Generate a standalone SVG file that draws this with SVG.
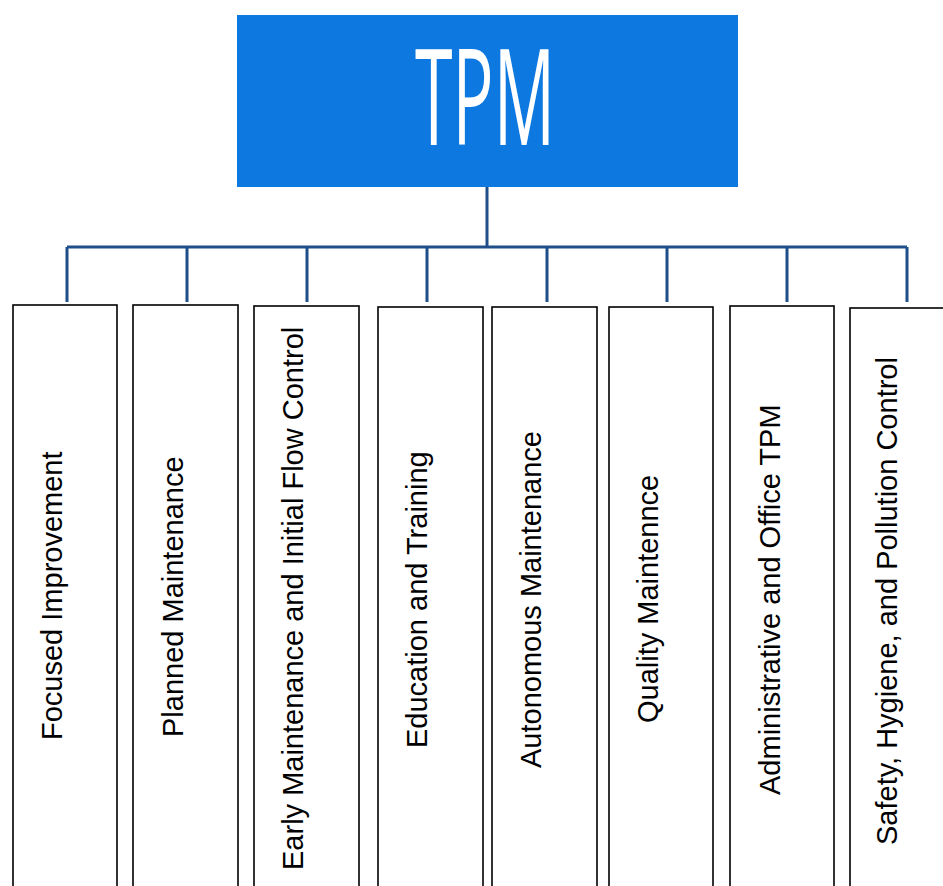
<svg xmlns="http://www.w3.org/2000/svg" width="943" height="886" viewBox="0 0 943 886">
<style>
.box{fill:#fff;stroke:#000;stroke-width:1.6}
.lbl{font-family:"Liberation Sans",Arial,sans-serif;font-size:29px;fill:#000}
.conn{stroke:#1f4f8a;stroke-width:3;fill:none}
</style>
<rect width="943" height="886" fill="#fff"/>
<g id="tpm">
<rect x="237" y="15" width="501" height="172" fill="#0c78e0"/>
<text x="485" y="145" text-anchor="middle" font-family="'Open Sans','DejaVu Sans',sans-serif" font-weight="400" font-size="133" fill="#fff" textLength="140" lengthAdjust="spacingAndGlyphs">TPM</text>
</g>
<g id="connectors">
<path class="conn" d="M487 187V247M67 247H907M67 247V302M187 247V302M307 247V302M427 247V302M547 247V302M667 247V302M787 247V302M907 247V302"/>
</g>
<g id="n1"><rect class="box" x="13" y="305" width="104" height="600"/><text class="lbl" transform="translate(62,740) rotate(-90)">Focused Improvement</text></g>
<g id="n2"><rect class="box" x="133" y="305" width="105" height="600"/><text class="lbl" transform="translate(183,737) rotate(-90)">Planned Maintenance</text></g>
<g id="n3"><rect class="box" x="254" y="306" width="105" height="600"/><text class="lbl" transform="translate(303,870) rotate(-90)">Early Maintenance and Initial Flow Control</text></g>
<g id="n4"><rect class="box" x="378" y="307" width="105" height="600"/><text class="lbl" transform="translate(427,748) rotate(-90)">Education and Training</text></g>
<g id="n5"><rect class="box" x="492" y="307" width="105" height="600"/><text class="lbl" transform="translate(541,768) rotate(-90)">Autonomous Maintenance</text></g>
<g id="n6"><rect class="box" x="609" y="307" width="104" height="600"/><text class="lbl" transform="translate(658,723) rotate(-90)">Quality Maintennce</text></g>
<g id="n7"><rect class="box" x="730" y="306" width="104" height="600"/><text class="lbl" transform="translate(780,795) rotate(-90)">Administrative and Office TPM</text></g>
<g id="n8"><rect class="box" x="850" y="308" width="110" height="600"/><text class="lbl" transform="translate(897,845) rotate(-90)">Safety, Hygiene, and Pollution Control</text></g>
</svg>
